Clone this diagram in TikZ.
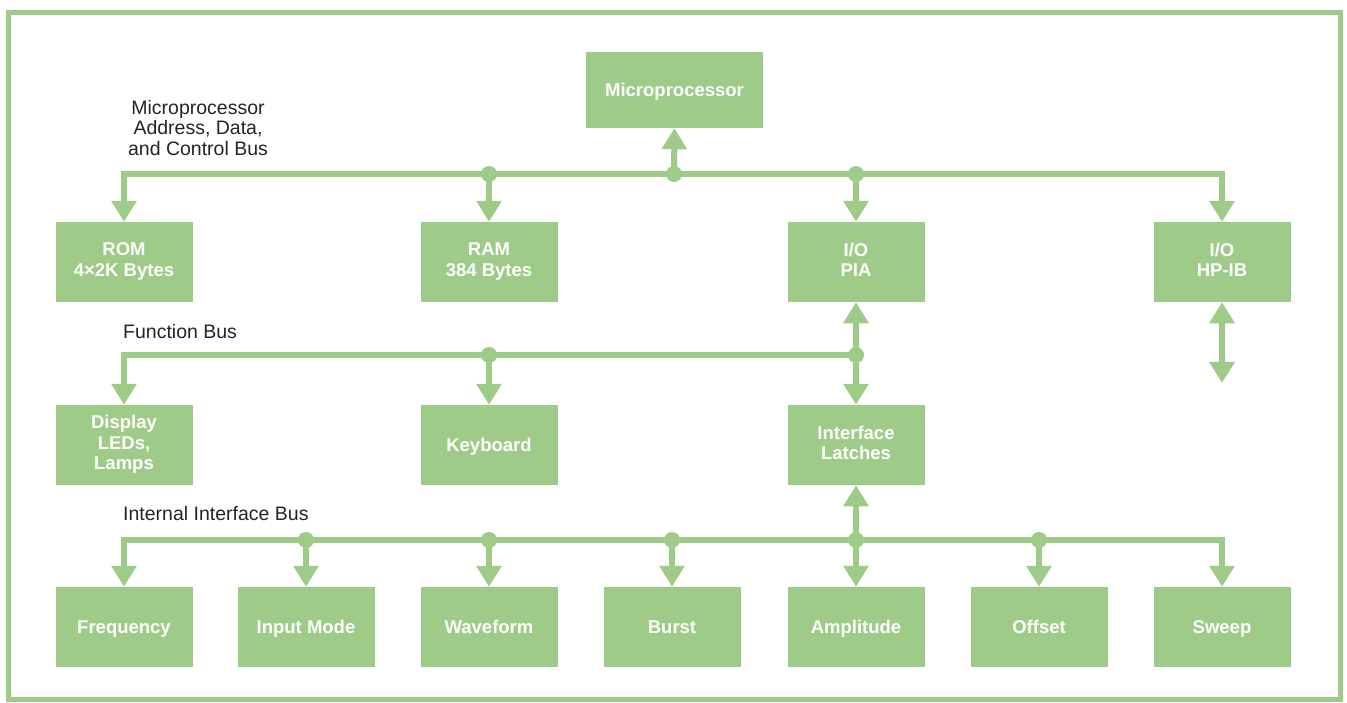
\documentclass[tikz,border=0pt]{standalone}
\usepackage{fontspec}
\setmainfont{Liberation Sans}
\usetikzlibrary{arrows.meta}
\definecolor{hpgreen}{RGB}{158,203,135}
\definecolor{ink}{RGB}{30,38,38}
\newcommand\boxstrut{\rule[-4.6pt]{0pt}{22.6pt}}

\begin{document}
\begin{tikzpicture}[x=1pt, y=-1pt,
block/.style={fill=hpgreen, text=white, align=center, minimum width=137pt, minimum height=80pt, inner sep=0pt, font=\bfseries\fontsize{18.5}{20.5}\selectfont, execute at begin node=\boxstrut, execute at end node=\boxstrut},
bus/.style={draw=hpgreen, line width=6pt, line join=miter, arrows={[width=19pt, length=16pt]}},
dot/.style={fill=hpgreen}]
\tikzstyle{buslabel}=[text=ink, align=center, inner sep=0pt, font=\fontsize{19.5}{20.5}\selectfont]
\useasboundingbox (0,0) rectangle (1347,702);
\draw[hpgreen, line width=5pt] (8,12) rectangle (1340,699);

%Processor and memory
\node[block, minimum width=177pt, minimum height=76pt] (micro) at (674.5,90) {Microprocessor};
\node[block] (rom) at (124,262) {ROM\\4\texttimes2K Bytes};
\node[block] (ram) at (489,262) {RAM\\384 Bytes};
\node[block] (pia) at (856,262) {I/O\\PIA};
\node[block] (hpib) at (1222,262) {I/O\\HP-IB};
%Front panel
\node[block] (disp) at (124,445) {Display\\LEDs,\\Lamps};
\node[block] (keys) at (489,445) {Keyboard};
\node[block] (latch) at (856,445) {Interface\\Latches};
%Instrument functions
\node[block] (freq) at (124,627) {Frequency};
\node[block] (mode) at (306,627) {Input Mode};
\node[block] (wave) at (489,627) {Waveform};
\node[block] (burst) at (672,627) {Burst};
\node[block] (ampl) at (856,627) {Amplitude};
\node[block] (offs) at (1039,627) {Offset};
\node[block] (sweep) at (1222,627) {Sweep};

%Labels
\node[buslabel] (mlabel) at (198,128) {Microprocessor\\Address, Data,\\and Control Bus};
\node[buslabel, anchor=west] (flabel) at (123,332) {Function Bus};
\node[buslabel, anchor=west] (ilabel) at (123,514) {Internal Interface Bus};

\coordinate (b1) at (674,174);
\coordinate (b2) at (856,355);
\coordinate (b3) at (856,540);
\coordinate (ext) at (1222,383);

%Address, data and control bus
\draw[bus, {Triangle}-{Triangle}] (rom.north) |- (b1) -| (hpib.north);
\draw[bus, -{Triangle}] (b1) -- (micro.south);
\draw[bus, -{Triangle}] (ram.north |- b1) -- (ram.north);
\draw[bus, -{Triangle}] (pia.north |- b1) -- (pia.north);
\draw[bus, {Triangle}-{Triangle}] (hpib.south) -- (ext);
\foreach \p in {b1, ram.north |- b1, pia.north |- b1}
  \fill[dot] (\p) circle (8pt);

%Function bus
\draw[bus, {Triangle}-{Triangle}] (pia.south) -- (latch.north);
\draw[bus, -{Triangle}] (b2) -| (disp.north);
\draw[bus, -{Triangle}] (keys.north |- b2) -- (keys.north);
\foreach \p in {b2, keys.north |- b2}
  \fill[dot] (\p) circle (8pt);

%Internal interface bus
\draw[bus, {Triangle}-{Triangle}] (latch.south) -- (ampl.north);
\draw[bus, {Triangle}-{Triangle}] (freq.north) |- (b3) -| (sweep.north);
\foreach \n in {mode, wave, burst, offs}
  \draw[bus, -{Triangle}] (\n.north |- b3) -- (\n.north);
\foreach \n in {mode, wave, burst, ampl, offs}
  \fill[dot] (\n.north |- b3) circle (8pt);
\end{tikzpicture}
\end{document}
